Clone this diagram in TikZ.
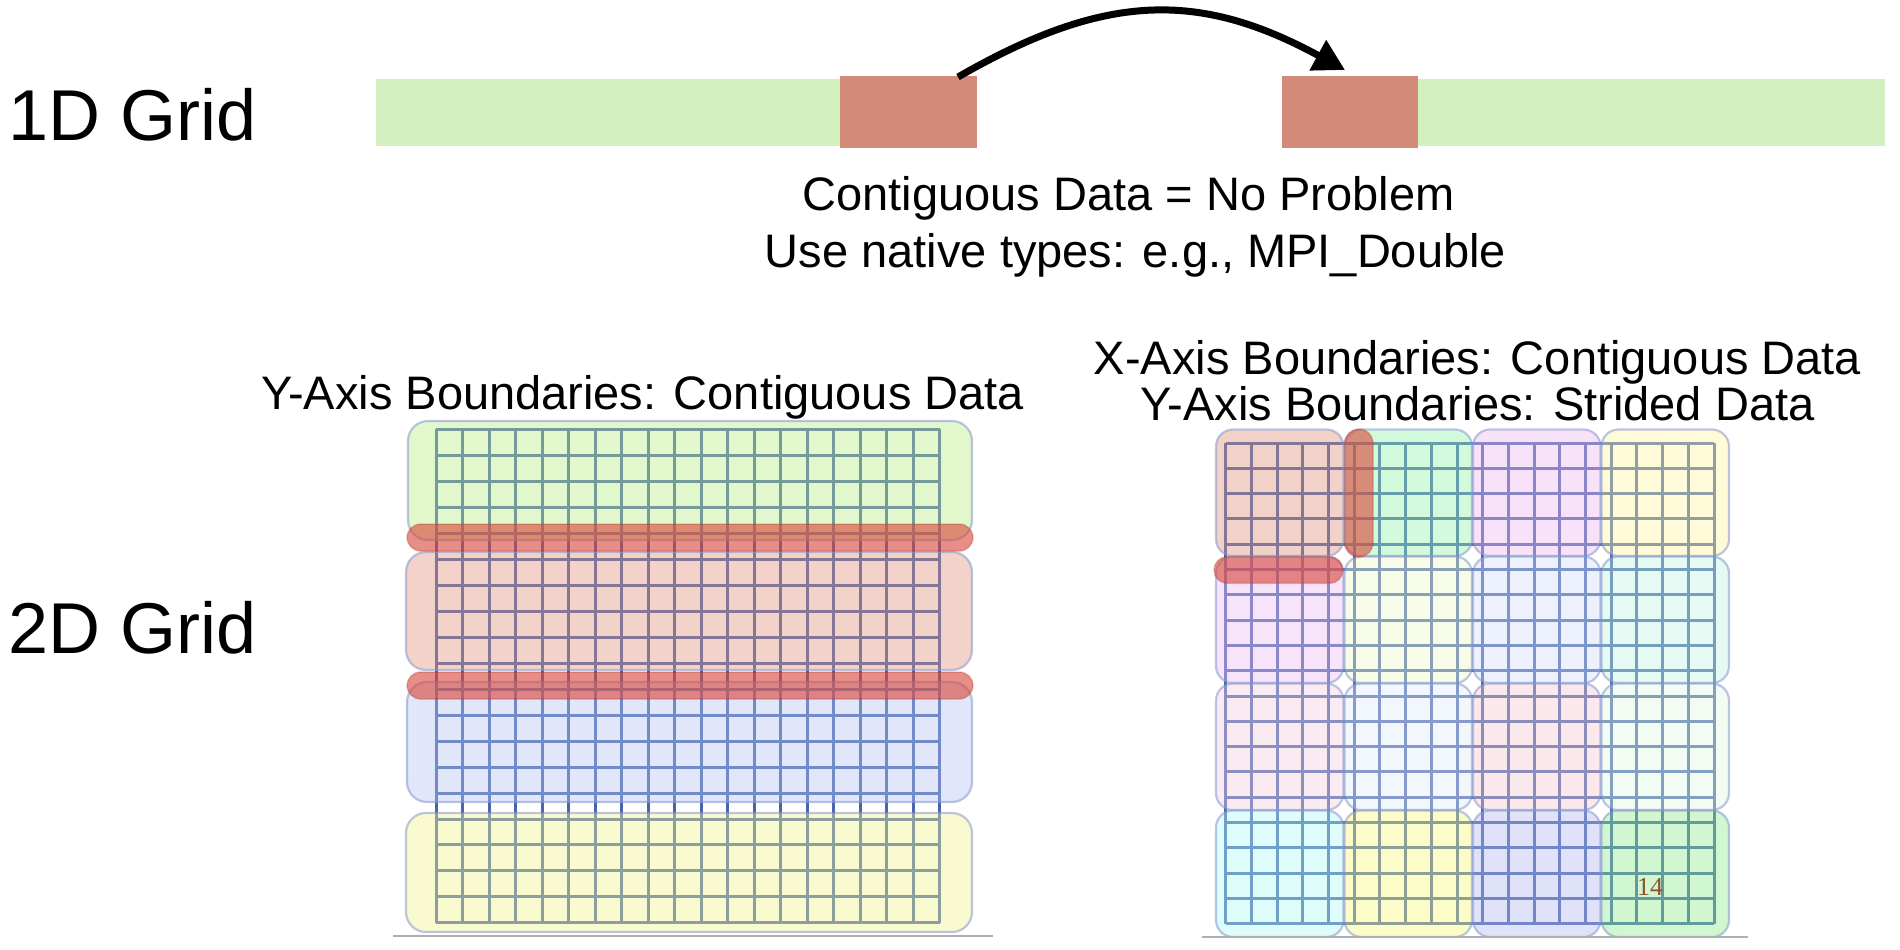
\documentclass[tikz,border=0pt]{standalone}
\usepackage{fontspec}
\setmainfont{Liberation Sans}
\newfontfamily\numfont{Liberation Serif}
\usetikzlibrary{arrows.meta}
% 1D colours
\definecolor{onegreen}{RGB}{211,240,192}
\definecolor{onered}{RGB}{212,138,120}
% grid and borders
\definecolor{gridcol}{RGB}{72,102,172}
\definecolor{bordercol}{RGB}{135,152,205}
\definecolor{bandcol}{RGB}{218,73,60}
\definecolor{baseline}{RGB}{175,175,175}
\definecolor{numcol}{RGB}{140,85,40}
% left boxes (base colours for opacity 0.4)
\definecolor{lgreen}{RGB}{182,235,127}
\definecolor{lpink}{RGB}{225,142,122}
\definecolor{lblue}{RGB}{180,192,242}
\definecolor{lyellow}{RGB}{242,242,137}
% right blocks
\definecolor{ra1}{RGB}{222,142,117}
\definecolor{ra2}{RGB}{147,242,172}
\definecolor{ra3}{RGB}{237,182,242}
\definecolor{ra4}{RGB}{255,242,155}
\definecolor{rb1}{RGB}{237,187,242}
\definecolor{rb2}{RGB}{235,247,197}
\definecolor{rb3}{RGB}{207,220,250}
\definecolor{rb4}{RGB}{187,242,222}
\definecolor{rc1}{RGB}{242,205,225}
\definecolor{rc2}{RGB}{222,235,250}
\definecolor{rc3}{RGB}{242,197,207}
\definecolor{rc4}{RGB}{222,247,222}
\definecolor{rd1}{RGB}{172,247,242}
\definecolor{rd2}{RGB}{247,247,117}
\definecolor{rd3}{RGB}{177,182,242}
\definecolor{rd4}{RGB}{137,235,137}
\tikzset{
  gridline/.style={draw=gridcol, line width=3pt},
  lbox/.style={rounded corners=20pt, fill opacity=0.4, draw=bordercol, draw opacity=0.55, line width=2.2pt},
  rbox/.style={rounded corners=17pt, fill opacity=0.4, draw=bordercol, draw opacity=0.55, line width=2.2pt},
  band/.style={fill=bandcol, fill opacity=0.62, draw=bandcol!70!black, draw opacity=0.25, line width=1.5pt},
  seg/.style={inner sep=0pt, outer sep=0pt, anchor=north west},
  lbl/.style={inner sep=0pt, font=\fontsize{47pt}{47pt}\selectfont},
  biglbl/.style={inner sep=0pt, font=\fontsize{72pt}{72pt}\selectfont},
  baseln/.style={draw=baseline, line width=2pt},
  movearrow/.style={line width=7pt, -{Triangle[length=31pt,width=33pt]}}
}
\begin{document}
\begin{tikzpicture}[x=1pt,y=-1pt]
\useasboundingbox (0,0) rectangle (1900,950);

% ---------- 1D grid ----------
\node[seg, fill=onegreen, minimum width=464.4pt, minimum height=67pt] (g1) at (375.6,79) {};
\node[seg, fill=onegreen, minimum width=467pt, minimum height=67pt] (g2) at (1418,79) {};
\node[seg, fill=onered, minimum width=137pt, minimum height=71.7pt] (r1) at (840,76) {};
\node[seg, fill=onered, minimum width=136.4pt, minimum height=71.7pt] (r2) at (1282,76) {};
\coordinate (astart) at (958,77);
\coordinate (aend) at (1345,70);
\draw[movearrow] (astart) .. controls (1104,-7) and (1198,-10) .. (aend);

\node[biglbl, anchor=base west] (t1d) at (8,140) {1D Grid};
\node[lbl, anchor=base] (c1) at (1128.6,210) {Contiguous Data = No Problem};
\node[lbl, anchor=base] (c2) at (1135.5,267) {Use native types: e.g., MPI\_Double};

% ---------- 2D grid labels ----------
\node[biglbl, anchor=base west] (t2d) at (8,653) {2D Grid};
\node[lbl, anchor=base] (ty) at (642.6,409) {Y-Axis Boundaries: Contiguous Data};
\node[lbl, anchor=base] (tx1) at (1477.5,374) {X-Axis Boundaries: Contiguous Data};
\node[lbl, anchor=base] (tx2) at (1477.5,420) {Y-Axis Boundaries: Strided Data};

% ---------- left grid ----------
\foreach \i in {0,...,19} {
  \draw[gridline] ({436.4+\i*26.484},429.3) -- ({436.4+\i*26.484},923);
  \draw[gridline] (436.4,{429.3+\i*25.98}) -- (939.6,{429.3+\i*25.98});
}
\filldraw[lbox, fill=lgreen] (408,421) rectangle (972,540);
\filldraw[lbox, fill=lpink] (406,552) rectangle (972,670);
\filldraw[lbox, fill=lblue] (407,682) rectangle (972,802);
\filldraw[lbox, fill=lyellow] (406,813) rectangle (972,932);
\filldraw[band, rounded corners=13.5pt] (407,524) rectangle (973,551);
\filldraw[band, rounded corners=13.5pt] (407,672) rectangle (973,699);
\draw[baseln] (393,936) -- (993,936);

% ---------- right grid ----------
\foreach \i in {0,...,19} {
  \draw[gridline] ({1225.7+\i*25.7},443) -- ({1225.7+\i*25.7},923.7);
  \draw[gridline] (1225.7,{443+\i*25.3}) -- (1714,{443+\i*25.3});
}
\foreach \r/\cols in {0/{ra1,ra2,ra3,ra4},1/{rb1,rb2,rb3,rb4},2/{rc1,rc2,rc3,rc4},3/{rd1,rd2,rd3,rd4}} {
  \foreach \c [count=\k from 0] in \cols {
    \filldraw[rbox, fill=\c] ({1216+\k*128.5},{429.5+\r*127}) rectangle ({1216+\k*128.5+127.5},{429.5+\r*127+126.5});
  }
}
\filldraw[band, rounded corners=14pt] (1344.6,429) rectangle (1373,557);
\filldraw[band, rounded corners=13pt] (1214,556.7) rectangle (1343,583.3);
\node[inner sep=0pt, anchor=base, text=numcol, font=\fontsize{26pt}{26pt}\numfont] (num) at (1650,895) {14};
\draw[baseln] (1202,937) -- (1748,937);
\end{tikzpicture}
\end{document}
